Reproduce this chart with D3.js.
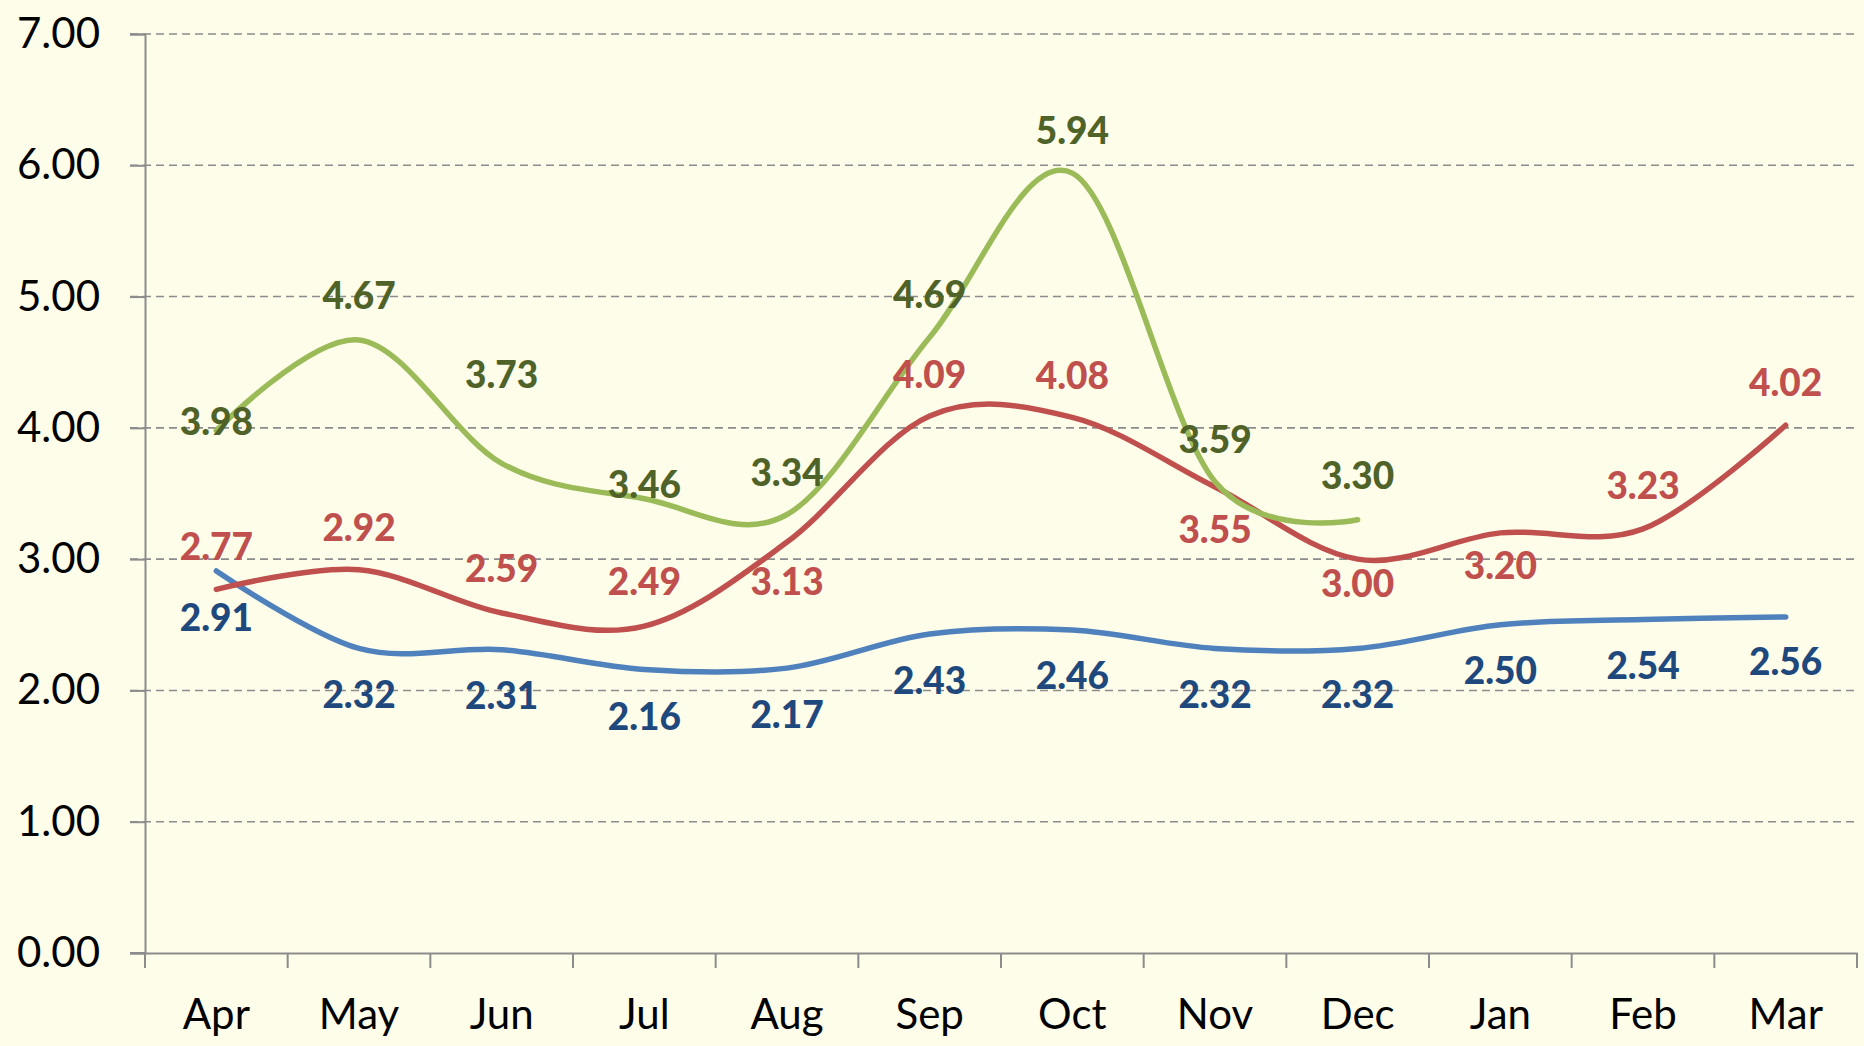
<!DOCTYPE html>
<html>
<head>
<meta charset="utf-8">
<script src="https://cdn.jsdelivr.net/npm/d3@7"></script>
<style>
  html, body { margin: 0; padding: 0; background: #FEFDEA; }
  svg { display: block; font-family: Lato, "Open Sans", sans-serif; }
</style>
</head>
<body>
<script>
// months on the x axis
const months = ['Apr', 'May', 'Jun', 'Jul', 'Aug', 'Sep', 'Oct', 'Nov', 'Dec', 'Jan', 'Feb', 'Mar'];

// series values
const blueValues = [2.91, 2.32, 2.31, 2.16, 2.17, 2.43, 2.46, 2.32, 2.32, 2.50, 2.54, 2.56];
const redValues = [2.77, 2.92, 2.59, 2.49, 3.13, 4.09, 4.08, 3.55, 3.00, 3.20, 3.23, 4.02];
const greenValues = [3.98, 4.67, 3.73, 3.46, 3.34, 4.69, 5.94, 3.59, 3.30];

// y axis ticks
const yTicks = [0, 1, 2, 3, 4, 5, 6, 7];

// where each data label sits relative to its point (px, label centre)
const blueLabelDy = [47, 46, 46, 47, 47, 47, 46, 46, 46, 46, 46, 45];
const redLabelDy = [-43, -42, -44, -44, 40, -41, -42, 43, 25, 33, -43, -43];
const greenLabelDy = [-9, -44, -89, -14, -42, -43, -42, -42, -44];

const series = [
    {values: blueValues, line: '#4F81BD', text: '#1F497D', dy: blueLabelDy},
    {values: redValues, line: '#C0504D', text: '#C0504D', dy: redLabelDy},
    {values: greenValues, line: '#9BBB59', text: '#4F6228', dy: greenLabelDy}
];

const width = 1864;
const height = 1046;
const plotLeft = 145, plotRight = 1857, plotTop = 34, plotBottom = 953;
const fontFamily = 'Lato, "Open Sans", sans-serif';

const svg = d3.select('body').append('svg')
    .attr('width', width)
    .attr('height', height);

svg.append('rect')
    .attr('width', width)
    .attr('height', height)
    .attr('fill', '#FEFDEA');

const xScale = d3.scaleBand()
    .domain(months)
    .range([plotLeft, plotRight]);

const yScale = d3.scaleLinear()
    .domain([0, 7])
    .range([plotBottom, plotTop]);

const xMid = (i) => xScale(months[i]) + xScale.bandwidth() / 2;

// dashed gridlines
svg.append('g')
    .selectAll('line')
    .data(yTicks.filter(t => t > 0))
    .enter()
        .append('line')
            .attr('x1', plotLeft - 15)
            .attr('x2', plotRight)
            .attr('y1', d => yScale(d))
            .attr('y2', d => yScale(d))
            .attr('stroke', '#8C8C8C')
            .attr('stroke-width', 1.6)
            .attr('stroke-dasharray', '8,5');

// y axis
const yAxis = svg.append('g')
    .attr('transform', `translate(${plotLeft}, 0)`)
    .call(d3.axisLeft(yScale)
        .tickValues(yTicks)
        .tickFormat(d3.format('.2f'))
        .tickSize(15)
        .tickPadding(30))
    .attr('font-family', fontFamily);
yAxis.select('.domain').attr('stroke', '#8C8C8C').attr('stroke-width', 2);
yAxis.selectAll('.tick line').attr('stroke', '#8C8C8C').attr('stroke-width', 2);
yAxis.selectAll('.tick text')
    .attr('fill', '#000')
    .style('font-size', '42px');

// x axis, labels at band centres
const xAxis = svg.append('g')
    .attr('transform', `translate(0, ${plotBottom})`)
    .call(d3.axisBottom(xScale).tickSize(0).tickPadding(46))
    .attr('font-family', fontFamily);
xAxis.select('.domain').attr('stroke', '#8C8C8C').attr('stroke-width', 2);
xAxis.selectAll('.tick text')
    .attr('fill', '#000')
    .style('font-size', '42px');

// x tick marks at band edges
const edges = months.map(m => xScale(m)).concat([xScale.range()[1]]);
svg.append('g')
    .selectAll('line')
    .data(edges)
    .enter()
        .append('line')
            .attr('x1', d => d)
            .attr('x2', d => d)
            .attr('y1', plotBottom)
            .attr('y2', plotBottom + 15)
            .attr('stroke', '#8C8C8C')
            .attr('stroke-width', 2);
svg.append('line')
    .attr('x1', plotLeft - 15)
    .attr('x2', plotLeft)
    .attr('y1', plotBottom)
    .attr('y2', plotBottom)
    .attr('stroke', '#8C8C8C')
    .attr('stroke-width', 2);

// smoothed lines
const line = d3.line()
    .x((d, i) => xMid(i))
    .y(d => yScale(d))
    .curve(d3.curveCardinal.tension(0));

series.forEach(s => {
    svg.append('path')
        .datum(s.values)
        .attr('d', line)
        .attr('fill', 'none')
        .attr('stroke', s.line)
        .attr('stroke-width', 5.5)
        .attr('stroke-linecap', 'round')
        .attr('stroke-linejoin', 'round');
});

// data labels on top
series.forEach(s => {
    svg.append('g')
        .selectAll('text')
        .data(s.values)
        .enter()
            .append('text')
                .attr('x', (d, i) => xMid(i))
                .attr('y', (d, i) => yScale(d) + s.dy[i])
                .attr('dy', '0.36em')
                .attr('text-anchor', 'middle')
                .attr('fill', s.text)
                .style('font-size', '37px')
                .style('font-weight', 900)
                .text(d => d.toFixed(2));
});
</script>
</body>
</html>
